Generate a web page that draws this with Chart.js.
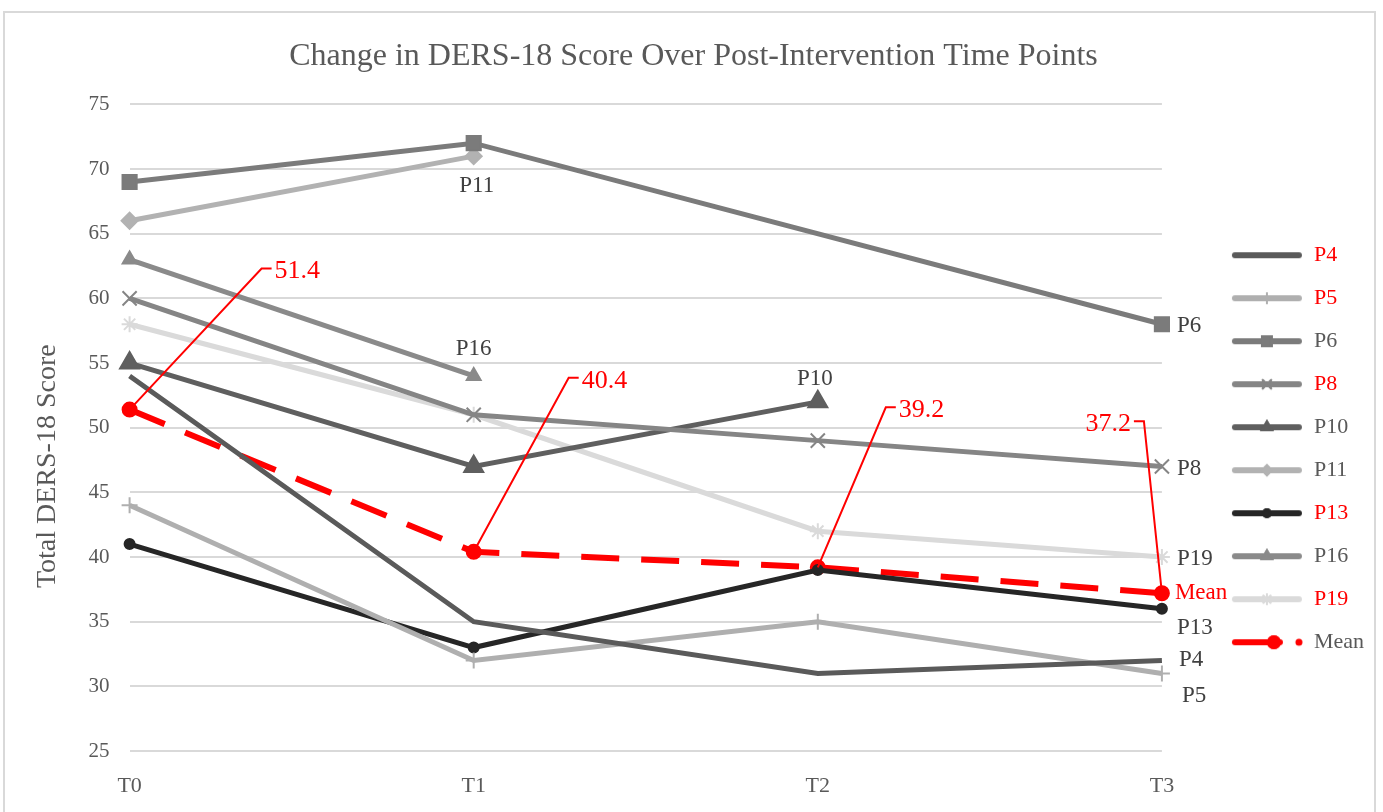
<!DOCTYPE html>
<html>
<head>
<meta charset="utf-8">
<script src="https://cdn.jsdelivr.net/npm/chart.js@4.4.1/dist/chart.umd.min.js"></script>
<style>
  html, body { margin: 0; padding: 0; background: #ffffff; overflow: hidden; }
  #frame { position: absolute; left: 3px; top: 11px; width: 1373px; height: 830px; border: 2px solid #d9d9d9; box-sizing: border-box; }
  #wrap { position: absolute; left: 0; top: 0; width: 1383px; height: 812px; }
</style>
</head>
<body>
<div id="frame"></div>
<div id="wrap"><canvas id="c"></canvas></div>
<script>
// ---- data ----
const categories = ['T0', 'T1', 'T2', 'T3'];
const seriesNames = ['P4', 'P5', 'P6', 'P8', 'P10', 'P11', 'P13', 'P16', 'P19', 'Mean'];
const p4  = [54, 35, 31, 32];
const p5  = [44, 32, 35, 31];
const p6  = [69, 72, null, 58];
const p8  = [60, 51, 49, 47];
const p10 = [55, 47, 52, null];
const p11 = [66, 71, null, null];
const p13 = [41, 33, 39, 36];
const p16 = [63, 54, null, null];
const p19 = [58, 51, 42, 40];
const meanValues = [51.4, 40.4, 39.2, 37.2];
const yMin = 25, yMax = 75, yStep = 5;
const chartTitle = 'Change in DERS-18 Score Over Post-Intervention Time Points';
const yTitle = 'Total DERS-18 Score';

// ---- styles ----
const FONT = "'Liberation Serif', 'Times New Roman', serif";
const TXT = '#595959';
const RED = '#ff0000';
const styles = {
  P4:  { color: '#5a5a5a', point: false,      radius: 0,  lr: 0, legendColor: RED },
  P5:  { color: '#afafaf', point: 'cross',    radius: 8,  lr: 5, legendColor: RED },
  P6:  { color: '#7b7b7b', point: 'rect',     radius: 10, lr: 7, legendColor: TXT, spanGaps: true },
  P8:  { color: '#858585', point: 'crossRot', radius: 10, lr: 6, legendColor: RED },
  P10: { color: '#5f5f5f', point: 'triangle', radius: 11, lr: 6, legendColor: TXT },
  P11: { color: '#b2b2b2', point: 'rectRot',  radius: 8,  lr: 5, legendColor: TXT },
  P13: { color: '#262626', point: 'circle',   radius: 5,  lr: 4, legendColor: RED },
  P16: { color: '#8a8a8a', point: 'triangle', radius: 8,  lr: 6, legendColor: TXT },
  P19: { color: '#dadada', point: 'star',     radius: 8,  lr: 5, legendColor: RED },
  Mean:{ color: RED,       point: 'circle',   radius: 7,  lr: 6, legendColor: TXT, dash: [38, 22] }
};
const seriesData = { P4: p4, P5: p5, P6: p6, P8: p8, P10: p10, P11: p11, P13: p13, P16: p16, P19: p19, Mean: meanValues };

// label placements (pixel offsets from the data point)
const nameLabels = [
  { name: 'P11', i: 1, dx: 3,  dy: 30, align: 'center' },
  { name: 'P16', i: 1, dx: 0,  dy: -27, align: 'center' },
  { name: 'P10', i: 2, dx: -3, dy: -23, align: 'center' },
  { name: 'P6',  i: 3, dx: 15, dy: 2,  align: 'left' },
  { name: 'P8',  i: 3, dx: 15, dy: 2,  align: 'left' },
  { name: 'P19', i: 3, dx: 15, dy: 2,  align: 'left' },
  { name: 'Mean',i: 3, dx: 13, dy: 0,  align: 'left', color: RED },
  { name: 'P13', i: 3, dx: 15, dy: 19, align: 'left' },
  { name: 'P4',  i: 3, dx: 17, dy: -1, align: 'left' },
  { name: 'P5',  i: 3, dx: 20, dy: 23, align: 'left' }
];
const meanCallouts = [
  { i: 0, ex: 132, ey: -141, side: 1 },
  { i: 1, ex: 95,  ey: -174, side: 1 },
  { i: 2, ex: 68,  ey: -160, side: 1 },
  { i: 3, ex: -18, ey: -172, side: -1 }
];

const LEG_W = 120;
function legendImage(st) {
  const c = document.createElement('canvas');
  c.width = LEG_W; c.height = 22;
  const g = c.getContext('2d');
  g.lineCap = 'round';
  g.strokeStyle = st.color; g.fillStyle = st.color;
  g.lineWidth = 6;
  if (st.dash) {
    g.beginPath(); g.moveTo(52, 11); g.lineTo(97, 11); g.stroke();
    g.beginPath(); g.arc(116, 11, 3.5, 0, Math.PI * 2); g.fill();
  } else {
    g.beginPath(); g.moveTo(52, 11); g.lineTo(116, 11); g.stroke();
  }
  if (st.point) {
    g.lineWidth = 2;
    Chart.helpers.drawPoint(g, { pointStyle: st.point, radius: st.lr, borderWidth: 2, rotation: 0 }, st.dash ? 91 : 84, 11);
    g.fill(); g.stroke();
  }
  return c;
}

const datasets = seriesNames.map(n => {
  const st = styles[n];
  return {
    label: n,
    data: seriesData[n],
    borderColor: st.color,
    backgroundColor: st.color,
    borderWidth: st.dash ? 6 : 5,
    borderDash: st.dash || [],
    pointStyle: st.point || 'circle',
    pointRadius: st.point ? st.radius : 0,
    pointHoverRadius: st.point ? st.radius : 0,
    pointBorderColor: st.color,
    pointBackgroundColor: st.color,
    pointBorderWidth: 2,
    spanGaps: !!st.spanGaps,
    tension: 0,
    fill: false
  };
});

const labelPlugin = {
  id: 'labels',
  afterDatasetsDraw(chart) {
    const ctx = chart.ctx;
    const x = chart.scales.x, y = chart.scales.y;
    ctx.save();
    ctx.font = '23px ' + FONT;
    ctx.textBaseline = 'middle';
    nameLabels.forEach(l => {
      const v = seriesData[l.name][l.i];
      const px = x.getPixelForValue(l.i), py = y.getPixelForValue(v);
      ctx.fillStyle = l.color || '#404040';
      ctx.textAlign = l.align;
      ctx.fillText(l.name, px + l.dx, py + l.dy);
    });
    ctx.strokeStyle = RED; ctx.fillStyle = RED; ctx.lineWidth = 2;
    ctx.font = '26px ' + FONT;
    meanCallouts.forEach(c => {
      const v = meanValues[c.i];
      const px = x.getPixelForValue(c.i), py = y.getPixelForValue(v);
      const ex = px + c.ex, ey = py + c.ey;
      ctx.beginPath();
      ctx.moveTo(px, py); ctx.lineTo(ex, ey); ctx.lineTo(ex + c.side * 10, ey);
      ctx.stroke();
      ctx.textAlign = c.side > 0 ? 'left' : 'right';
      ctx.fillText(v.toFixed(1), ex + c.side * 13, ey + 3);
    });
    ctx.restore();
  }
};

new Chart(document.getElementById('c'), {
  type: 'line',
  data: { labels: categories, datasets },
  plugins: [labelPlugin],
  options: {
    responsive: true,
    maintainAspectRatio: false,
    animation: false,
    events: [],
    layout: { padding: { top: 20, bottom: 0, left: 29, right: 9 } },
    plugins: {
      tooltip: { enabled: false },
      title: {
        display: true, text: chartTitle + '  ', color: TXT,
        font: { family: FONT, size: 32, weight: 'normal' },
        padding: { top: 17, bottom: 29 }
      },
      legend: {
        position: 'right',
        align: 'center',
        fullSize: false,
        title: { display: true, text: ' ', font: { size: 10, lineHeight: 1 }, padding: { top: 32, bottom: 0 } },
        labels: {
          usePointStyle: true,
          pointStyleWidth: LEG_W,
          boxHeight: 21,
          padding: 21,
          font: { family: FONT, size: 22 },
          generateLabels(chart) {
            return chart.data.datasets.map((d, i) => ({
              text: d.label,
              fontColor: styles[d.label].legendColor,
              pointStyle: legendImage(styles[d.label]),
              fillStyle: 'transparent', strokeStyle: 'transparent', lineWidth: 0,
              hidden: false, datasetIndex: i
            }));
          }
        }
      }
    },
    scales: {
      x: {
        offset: false,
        grid: { display: false, drawTicks: false },
        border: { display: false },
        ticks: { color: TXT, font: { family: FONT, size: 22 }, padding: 22 },
        afterFit(scale) { scale.height = 61; }
      },
      y: {
        min: yMin, max: yMax,
        grid: { color: '#d9d9d9', lineWidth: 2, drawTicks: false },
        border: { display: false },
        ticks: { stepSize: yStep, color: TXT, font: { family: FONT, size: 21 }, padding: 20 },
        title: { display: true, text: yTitle + '           ', color: TXT, font: { family: FONT, size: 28 }, padding: { top: 2, bottom: 4 } }
      }
    }
  }
});
</script>
</body>
</html>
